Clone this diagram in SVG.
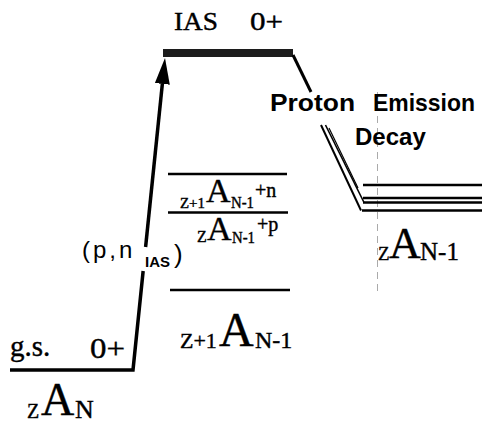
<svg xmlns="http://www.w3.org/2000/svg" width="482" height="424" viewBox="0 0 482 424">
<style>
.serif{font-family:"Liberation Serif","Times New Roman",serif;fill:#000;stroke:#000;stroke-width:0.4}
.sans{font-family:"Liberation Sans",Arial,sans-serif;fill:#000}
.bold{font-weight:bold}
.lvl{stroke:#000;fill:none;stroke-width:2.5}
.con{stroke:#000;fill:none;stroke-linejoin:miter}
</style>
<defs>
<marker id="arrow" viewBox="0 0 26 15" refX="0" refY="7.5" markerUnits="userSpaceOnUse" markerWidth="26" markerHeight="15" orient="auto">
<path d="M0,0 L26,7.5 L0,15 z" fill="#000"/>
</marker>
</defs>
<rect width="482" height="424" fill="#fff"/>
<line x1="377.5" y1="92" x2="377.5" y2="292" stroke="#aaa" stroke-width="1" stroke-dasharray="7 5"/>

<g id="gs-level">
<text class="serif" x="10" y="356" font-size="29">g.s.</text>
<text class="serif" x="90" y="358" font-size="30" textLength="35" lengthAdjust="spacingAndGlyphs">0+</text>
<text class="serif" x="27" y="418" font-size="20">Z</text>
<text class="serif" x="41" y="415" font-size="46">A</text>
<text class="serif" x="75" y="418" font-size="26">N</text>
</g>

<g id="ias-level">
<rect x="163" y="49" width="130" height="8" fill="#1c1c1c"/>
<text class="serif" x="174" y="30" font-size="25" textLength="44" lengthAdjust="spacingAndGlyphs">IAS</text>
<text class="serif" x="250" y="30" font-size="25" textLength="33" lengthAdjust="spacingAndGlyphs">0+</text>
</g>

<g id="threshold-n">
<line class="lvl" x1="168" y1="174" x2="287" y2="174"/>
<text class="serif" x="180" y="208" font-size="15" textLength="25" lengthAdjust="spacingAndGlyphs">Z+1</text>
<text class="serif" x="206" y="202" font-size="34">A</text>
<text class="serif" x="231" y="208" font-size="16" textLength="23" lengthAdjust="spacingAndGlyphs">N-1</text>
<text class="serif" x="255" y="197" font-size="20">+n</text>
</g>

<g id="threshold-p">
<line class="lvl" x1="168" y1="212.5" x2="288" y2="212.5"/>
<text class="serif" x="197" y="242" font-size="16">Z</text>
<text class="serif" x="207" y="240" font-size="34">A</text>
<text class="serif" x="232" y="243" font-size="16" textLength="23" lengthAdjust="spacingAndGlyphs">N-1</text>
<text class="serif" x="257" y="231" font-size="20">+p</text>
</g>

<g id="daughter-z1">
<line class="lvl" x1="170" y1="290" x2="290" y2="290"/>
<text class="serif" x="180" y="348" font-size="22">Z+1</text>
<text class="serif" x="219" y="346" font-size="48">A</text>
<text class="serif" x="255" y="348" font-size="24">N-1</text>
</g>

<g id="daughter-z">
<line class="lvl" x1="363" y1="185" x2="482" y2="185" stroke-width="2"/>
<line class="lvl" x1="363" y1="198" x2="482" y2="198" stroke-width="1.6"/>
<line class="lvl" x1="363" y1="202.5" x2="482" y2="202.5" stroke-width="2.2"/>
<line class="lvl" x1="362" y1="210.5" x2="482" y2="210.5" stroke-width="2.5"/>
<text class="serif" x="378" y="260" font-size="19">Z</text>
<text class="serif" x="389" y="258" font-size="44">A</text>
<text class="serif" x="420" y="260" font-size="25">N-1</text>
</g>

<g id="connectors">
<polyline class="con" points="10,370 133,370 143.15,271" stroke-width="3.5"/>
<line class="con" x1="145.6" y1="247" x2="162.35" y2="83.9" stroke-width="3.5" marker-end="url(#arrow)"/>
<text class="sans" x="82" y="258" font-size="24" letter-spacing="3">(p,n</text>
<text class="sans bold" x="145" y="267" font-size="15">IAS</text>
<text class="sans" x="174" y="263" font-size="26">)</text>
<line class="con" x1="293" y1="55" x2="311" y2="92" stroke-width="3"/>
<line class="con" x1="321" y1="125" x2="361" y2="210.5" stroke-width="2"/>
<line class="con" x1="325.5" y1="125" x2="364" y2="202.5" stroke-width="1.6"/>
<line class="con" x1="329" y1="128" x2="358" y2="188" stroke-width="1.2"/>
<text class="sans bold" x="270" y="111" font-size="24" textLength="85" lengthAdjust="spacingAndGlyphs">Proton</text>
<text class="sans bold" x="373" y="111" font-size="24" textLength="102" lengthAdjust="spacingAndGlyphs">Emission</text>
<text class="sans bold" x="355" y="145" font-size="24">Decay</text>
</g>
</svg>
